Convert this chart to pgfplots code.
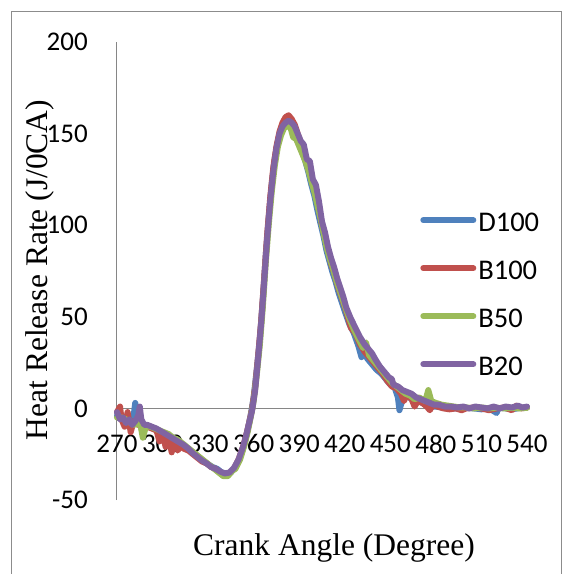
\documentclass[border=0pt]{standalone}
\usepackage{fontspec}
\setmainfont{Carlito}
\newfontfamily\serif{Liberation Serif}
\usepackage{pgfplots}
\pgfplotsset{compat=1.18}
\definecolor{cD}{HTML}{4F81BD}
\definecolor{cBh}{HTML}{C0504D}
\definecolor{cBf}{HTML}{9BBB59}
\definecolor{cBt}{HTML}{8064A2}
\definecolor{axgray}{HTML}{868686}
\definecolor{framegray}{HTML}{8C8C8C}
\begin{document}
\begin{tikzpicture}
\begin{axis}[
  at={(0pt,0pt)}, anchor=south west,
  scale only axis, width=410pt, height=458pt,
  xmin=270, xmax=540, ymin=-50, ymax=200,
  axis x line=middle, axis y line=left,
  hide obscured x ticks=false, hide obscured y ticks=false,
  axis line style={draw=axgray, line width=1pt, -},
  xtick={270,300,...,540}, ytick={-50,0,50,100,150,200},
  xticklabels={270,300,330,360,390,420,450,480,510,540},
  yticklabels={-50,0,50,100,150,200},
  major tick length=0pt,
  tick label style={font=\fontsize{27}{32}\selectfont, inner sep=0pt},
  xticklabel style={anchor=north, yshift=-26pt},
  yticklabel style={anchor=east, xshift=-29pt},
  every axis plot/.append style={line width=6pt, line join=round, line cap=round},
  legend style={draw=none, fill=none, at={(0.732,0.631)}, anchor=north west,
    font=\fontsize{28.5}{33}\selectfont, row sep=28pt, column sep=2pt,
    nodes={inner sep=0pt}},
  legend cell align=left,
  legend image code/.code={\draw[line width=6pt, line cap=round] (3pt,0.3em) -- (53pt,0.3em);},
  clip=false,
]
\addplot[cD] coordinates {
(270,-4)(273,-5)(276,-6)(279,-7)(281,-4)(282,3)(283,-1)(284,-8)(286,-8)(288,-9.5)(291,-10)(294,-11)(297,-12.5)
(300,-13.5)(303,-15)(306,-16.5)(309,-18)(312,-19.5)(315,-21)(318,-23)(321,-25)(324,-27)(327,-29)(330,-30.5)
(333,-32)(336,-33)(339,-35)(342,-35.5)(345,-35)(348,-32)(351,-27)(354,-19)(356,-12)(358,-4)(360,6)(362,21)
(364,37)(366,59)(368,84)(370,105)(372,123)(374,137)(376,146)(378,152)(380,155)(382,157)(384,156)(386,154)
(388,150)(390,145)(392,140)(394,135)(396,129)(398,122)(400,116)(402,108)(404,101)(406,94)(408,86)(410,80)
(412,74)(414,69)(416,63)(418,58)(420,53)(423,46)(426,41)(429,34)(431,28)(432,31)(435,27)(438,24)(441,21)
(444,19)(447,16)(450,13)(453,11)(455,6)(456,-1)(457,2)(459,7)(462,6)(465,5)(468,4)(471,3)(474,2)(477,1)
(480,1)(484,0.5)(488,0.5)(492,0)(496,0)(500,0.3)(505,0)(510,-0.5)(515,0)(520,-2.5)(521,0)(525,0.2)(530,-0.5)
(535,0.2)(540,0.5)};
\addlegendentry{D100}
\addplot[cBh] coordinates {
(270,-2)(272,1)(273,-6)(275,-10)(277,-2)(279,-13)(281,-7)(284,-9)(287,-9)(290,-10)(293,-11)(296,-12)(298,-18)
(300,-13)(302,-21)(304,-15)(306,-24)(308,-17)(310,-23)(312,-20)(314,-22)(317,-23)(320,-25)(323,-27)(326,-29)
(329,-30)(332,-32)(335,-33)(338,-35)(341,-36)(344,-35.5)(347,-33)(350,-28)(353,-21)(355,-15)(357,-8)(359,0)
(361,12)(363,29)(365,48)(367,72)(369,96)(371,116)(373,132)(375,143)(377,151)(379,156)(381,159)(383,160)
(385,158)(387,155)(389,150)(391,145)(393,140)(395,135)(397,129)(399,122)(401,116)(403,108)(405,100)(407,93)
(409,86)(411,79)(413,74)(415,68)(417,63)(419,58)(421,53)(424,44)(427,41)(430,35)(433,31)(436,28)(439,25)
(442,22)(445,19)(448,15)(451,12)(454,11)(457,8)(459,4)(461,8)(464,5)(466,1)(468,4)(471,3)(474,1)(476,-1)
(478,2)(481,1)(485,0)(489,-0.5)(493,0)(497,-1)(500,0)(505,0.5)(510,0)(515,-1)(520,0)(525,0.5)(530,-1)
(533,1.5)(536,0)(540,0.5)};
\addlegendentry{B100}
\addplot[cBf] coordinates {
(270,-5)(273,-5)(276,-6)(279,-8)(282,-9)(285,-7)(287,-16)(289,-10)(292,-10)(295,-11)(298,-12)(301,-13)
(304,-14)(307,-16)(310,-17)(313,-19)(316,-21)(319,-23)(322,-25)(325,-27)(328,-29)(331,-31)(334,-33)(337,-35)
(340,-37)(343,-37)(346,-34)(348,-33)(351,-28)(354,-20)(356,-13)(358,-5)(360,4)(362,18)(364,34)(366,55)
(368,80)(370,101)(372,119)(374,133)(376,143)(378,149)(380,153)(382,154)(384,154)(386,148)(388,147)(390,143)
(392,139)(394,135)(396,130)(398,124)(400,118)(402,111)(404,104)(406,96)(408,88)(410,82)(412,77)(414,71)
(416,66)(418,61)(420,56)(423,49)(426,43)(429,38)(432,33)(434,36)(436,29)(439,26)(442,23)(445,20)(448,17)
(451,14)(454,12)(457,10)(460,8)(463,7)(466,5)(469,6)(471,5)(473,4)(475,10)(477,4)(480,3)(484,2)(488,1.5)
(492,1)(496,0.5)(500,0.5)(505,0)(510,0.5)(515,0)(520,0.3)(525,0)(530,0.3)(535,0)(540,0.3)};
\addlegendentry{B50}
\addplot[cBt] coordinates {
(270,-2)(272,-6)(274,-5)(276,-8)(278,-6)(280,-9)(282,-7)(284,-4)(285,1)(286,-6)(288,-9)(290,-9)(293,-10)
(296,-11)(299,-12.5)(302,-14)(305,-15.5)(308,-17)(311,-18.5)(314,-20)(317,-22)(320,-24.5)(323,-26.5)
(326,-28.5)(329,-30)(332,-32)(335,-33)(338,-34.5)(341,-35.5)(344,-35)(347,-32.5)(350,-28)(353,-21)(355,-15)
(357,-8)(359,-1)(361,10)(363,28)(365,47)(367,70)(369,94)(371,114)(373,130)(375,142)(377,150)(379,154)
(381,156)(383,157)(385,156)(387,154)(389,150)(391,146)(393,144)(395,136)(397,135)(399,125)(401,122)(403,113)
(405,102)(407,96)(409,88)(411,82)(413,77)(415,71)(417,66)(419,61)(421,55)(424,49)(427,44)(430,39)(433,35)
(436,32)(438,30)(440,27)(443,23)(446,20)(449,17)(451,16)(452,13)(455,12)(458,10)(461,9)(464,8)(467,6)
(470,5)(473,4)(476,3)(479,2)(482,2)(486,1)(490,1)(494,0.5)(498,1)(502,0)(506,1)(510,0.5)(514,0)(518,1)
(522,0)(526,1)(530,0.5)(534,1.5)(537,0.5)(540,1)};
\addlegendentry{B20}
\end{axis}
\node[font=\serif\fontsize{31.5}{36}\selectfont, inner sep=0pt] at (217pt,-48pt) {Crank Angle (Degree)};
\node[font=\serif\fontsize{31.5}{36}\selectfont, inner sep=0pt, rotate=90] at (-77pt,230pt) {Heat Release Rate (J/0CA)};
\draw[framegray, line width=1pt] (-105pt,-90pt) -- (-105pt,488pt) -- (444pt,488pt) -- (444pt,-90pt);
\pgfresetboundingbox
\path[use as bounding box] (-117pt,-74pt) rectangle (445pt,500pt);
\end{tikzpicture}
\end{document}
